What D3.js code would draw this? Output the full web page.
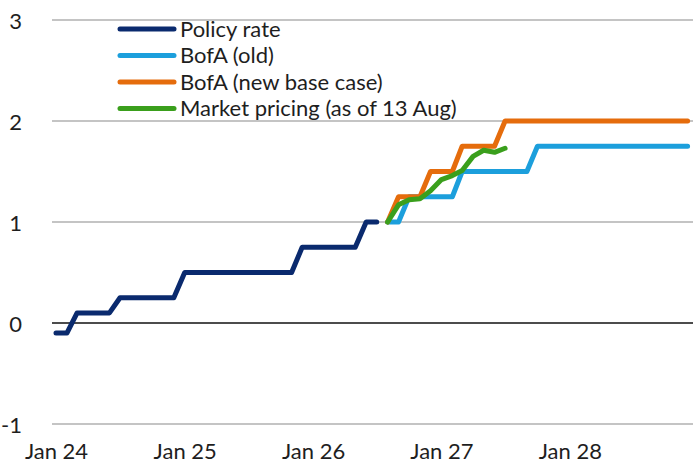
<!DOCTYPE html>
<html>
<head>
<meta charset="utf-8">
<script src="https://cdn.jsdelivr.net/npm/d3@7"></script>
<style>
  html, body { margin: 0; padding: 0; background: #fff; }
  svg text { font-family: Lato, "DejaVu Sans Condensed", sans-serif; fill: #1e1e1e; }
</style>
</head>
<body>
<svg id="chart" width="700" height="473"></svg>
<script>
// ---- Data (monthly) ----
const policyStart = "2024-01";
const policyRate = [-0.1, -0.1, 0.1, 0.1, 0.1, 0.1, 0.25, 0.25, 0.25, 0.25, 0.25, 0.25,
                    0.5, 0.5, 0.5, 0.5, 0.5, 0.5, 0.5, 0.5, 0.5, 0.5, 0.5, 0.75,
                    0.75, 0.75, 0.75, 0.75, 0.75, 1.0, 1.0];
const forecastStart = "2026-08";
const bofaOld = [1.0, 1.0, 1.25, 1.25, 1.25, 1.25, 1.25, 1.5, 1.5, 1.5, 1.5, 1.5, 1.5, 1.5,
                 1.75, 1.75, 1.75, 1.75, 1.75, 1.75, 1.75, 1.75, 1.75, 1.75, 1.75, 1.75, 1.75, 1.75, 1.75];
const bofaNew = [1.0, 1.25, 1.25, 1.25, 1.5, 1.5, 1.5, 1.75, 1.75, 1.75, 1.75, 2.0,
                 2.0, 2.0, 2.0, 2.0, 2.0, 2.0, 2.0, 2.0, 2.0, 2.0, 2.0, 2.0, 2.0, 2.0, 2.0, 2.0, 2.0];
const marketPricing = [1.0, 1.17, 1.22, 1.23, 1.31, 1.42, 1.46, 1.51, 1.65, 1.71, 1.69, 1.73];
const seriesNames = ["Policy rate", "BofA (old)", "BofA (new base case)", "Market pricing (as of 13 Aug)"];
const seriesColors = ["#0a2a6e", "#1c9fdc", "#e56c0c", "#3a9f1c"];
const yTicks = [-1, 0, 1, 2, 3];
const xTickYears = [2024, 2025, 2026, 2027, 2028];

// ---- Helpers ----
const parseMonth = d3.utcParse("%Y-%m");
function toSeries(start, values) {
  const s = parseMonth(start);
  return values.map((v, i) => ({ date: d3.utcMonth.offset(s, i), value: v }));
}
const series = [
  toSeries(policyStart, policyRate),
  toSeries(forecastStart, bofaOld),
  toSeries(forecastStart, bofaNew),
  toSeries(forecastStart, marketPricing)
];

// ---- Layout ----
const svg = d3.select("#chart");
const x = d3.scaleUtc()
  .domain([new Date(Date.UTC(2024, 0, 1)), new Date(Date.UTC(2029, 0, 1))])
  .range([56, 698.5]);
const y = d3.scaleLinear().domain([-1, 3]).range([424, 20]);
const gridX0 = 52, gridX1 = 693;

// Gridlines
svg.append("g").selectAll("line").data(yTicks).join("line")
  .attr("x1", gridX0).attr("x2", gridX1)
  .attr("y1", d => y(d)).attr("y2", d => y(d))
  .attr("stroke", d => d === 0 ? "#111" : "#c4c4c4")
  .attr("stroke-width", d => d === 0 ? 1.6 : 2);

// Y axis labels
const yAxis = d3.axisLeft(y).tickValues(yTicks).tickSize(0).tickPadding(0).tickFormat(d => String(d));
const gy = svg.append("g").attr("transform", "translate(22,0)").call(yAxis);
gy.select(".domain").remove();
gy.selectAll("text").attr("font-size", 22).attr("dy", "0.38em")
  .style("font-family", 'Lato, "DejaVu Sans Condensed", sans-serif').attr("fill", "#1e1e1e");

// X axis labels
const xAxis = d3.axisBottom(x)
  .tickValues(xTickYears.map(yy => new Date(Date.UTC(yy, 0, 1))))
  .tickSize(0).tickPadding(0)
  .tickFormat(d3.utcFormat("Jan %y"));
const gx = svg.append("g").attr("transform", "translate(0,443)").call(xAxis);
gx.select(".domain").remove();
gx.selectAll("text").attr("font-size", 22).attr("dy", "0.71em")
  .style("font-family", 'Lato, "DejaVu Sans Condensed", sans-serif').attr("fill", "#1e1e1e");

// Lines
const line = d3.line().x(d => x(d.date)).y(d => y(d.value));
svg.append("g").selectAll("path").data(series).join("path")
  .attr("d", line)
  .attr("fill", "none")
  .attr("stroke", (d, i) => seriesColors[i])
  .attr("stroke-width", 5)
  .attr("stroke-linejoin", "round")
  .attr("stroke-linecap", "round");

// Legend
const legend = svg.append("g");
const legRows = legend.selectAll("g").data(seriesNames).join("g")
  .attr("transform", (d, i) => `translate(0,${29 + i * 26.5})`);
legRows.append("line")
  .attr("x1", 120).attr("x2", 174).attr("y1", 0).attr("y2", 0)
  .attr("stroke", (d, i) => seriesColors[i])
  .attr("stroke-width", 5).attr("stroke-linecap", "round");
legRows.append("text")
  .attr("x", 180).attr("y", 0).attr("dy", "0.36em")
  .attr("font-size", 22)
  .text(d => d);
</script>
</body>
</html>
